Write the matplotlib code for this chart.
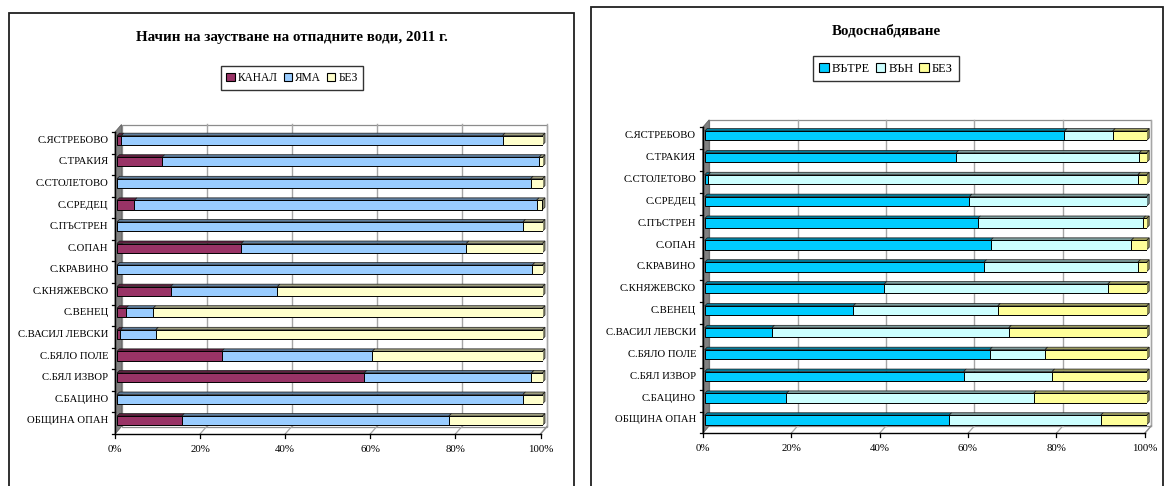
import matplotlib
matplotlib.use("Agg")
import matplotlib.pyplot as plt
from matplotlib.patches import Rectangle, Polygon, Patch
from matplotlib.colors import to_rgb

plt.rcParams['font.family'] = ['Liberation Serif', 'DejaVu Serif']

# ---------------- data (top to bottom as displayed) ----------------
categories = ['С.ЯСТРЕБОВО', 'С.ТРАКИЯ', 'С.СТОЛЕТОВО', 'С.СРЕДЕЦ', 'С.ПЪСТРЕН',
              'С.ОПАН', 'С.КРАВИНО', 'С.КНЯЖЕВСКО', 'С.ВЕНЕЦ', 'С.ВАСИЛ ЛЕВСКИ',
              'С.БЯЛО ПОЛЕ', 'С.БЯЛ ИЗВОР', 'С.БАЦИНО', 'ОБЩИНА ОПАН']

left_title = 'Начин на заустване на отпадните води, 2011 г.'
left_series = ['КАНАЛ', 'ЯМА', 'БЕЗ']
kanal = [1.0, 10.6, 0.0, 4.1, 0.0, 29.2, 0.0, 12.6, 2.1, 0.8, 24.6, 58.1, 0.0, 15.2]
yama = [89.6, 88.6, 97.2, 94.5, 95.4, 52.9, 97.6, 25.1, 6.4, 8.3, 35.4, 39.3, 95.4, 62.8]
bez_left = [9.4, 0.8, 2.8, 1.4, 4.6, 17.9, 2.4, 62.3, 91.5, 90.9, 40.0, 2.6, 4.6, 22.0]
left_colors = ['#993366', '#99CCFF', '#FFFFCC']

right_title = 'Водоснабдяване'
right_series = ['ВЪТРЕ', 'ВЪН', 'БЕЗ']
vatre = [81.4, 56.9, 0.8, 59.9, 61.8, 64.7, 63.2, 40.6, 33.6, 15.2, 64.5, 58.6, 18.5, 55.3]
van = [10.9, 41.4, 97.2, 40.1, 37.4, 31.8, 34.8, 50.6, 32.7, 53.6, 12.5, 20.0, 55.9, 34.3]
bez_right = [7.7, 1.7, 2.0, 0.0, 0.8, 3.5, 2.0, 8.8, 33.7, 31.2, 23.0, 21.4, 25.6, 10.4]
right_colors = ['#00CCFF', '#CCFFFF', '#FFFF99']

xticks = [0, 20, 40, 60, 80, 100]
xticklabels = ['0%', '20%', '40%', '60%', '80%', '100%']

# ---------------- figure ----------------
W, H = 1168, 486
fig = plt.figure(figsize=(W / 100, H / 100), dpi=100)
fig.patch.set_facecolor('white')


def shade(c, f):
    r, g, b = to_rgb(c)
    return (r * f, g * f, b * f)


def frame(x0, x1, ytop):
    fig.patches.append(Rectangle((x0 / W, -0.05), (x1 - x0) / W, 1 - ytop / H + 0.05,
                                 transform=fig.transFigure, fill=False,
                                 edgecolor='#202020', linewidth=1.3, zorder=0))


def panel(x0, x1, ytop, ybot, series_vals, names, colors, title, title_xy, legend_xy, legfs):
    ax = fig.add_axes([x0 / W, 1 - ybot / H, (x1 - x0) / W, (ybot - ytop) / H])
    n = len(categories)
    ax.set_xlim(0, 100)
    ax.set_ylim(-0.5, n - 0.5)
    ax.axis('off')
    ppx = (x1 - x0) / 100.0
    ppy = (ybot - ytop) / n
    fdx, fdy = -2 / ppx, -2.5 / ppy      # front plane offset
    bdx, bdy = 4.5 / ppx, 5 / ppy        # back wall offset
    ddx, ddy = 2.5 / ppx, 2.5 / ppy      # bar depth
    ylo, yhi = -0.5, n - 0.5

    # back wall
    ax.add_patch(Rectangle((bdx, ylo + bdy), 100, n, facecolor='white',
                           edgecolor='#8c8c8c', linewidth=0.9, zorder=0, clip_on=False))
    for t in xticks[1:]:
        ax.plot([t + bdx, t + bdx], [ylo + bdy, yhi + bdy], color='#a6a6a6',
                linewidth=1.0, zorder=0.5, clip_on=False)
        ax.plot([t + fdx, t + bdx], [ylo + fdy, ylo + bdy], color='#a6a6a6',
                linewidth=0.9, zorder=0.5, clip_on=False)
    # left side wall
    ax.add_patch(Polygon([(fdx, ylo + fdy), (fdx, yhi + fdy), (bdx, yhi + bdy), (bdx, ylo + bdy)],
                         closed=True, facecolor='#808080', edgecolor='#606060',
                         linewidth=0.6, zorder=0.7, clip_on=False))

    # bars
    ypos = [n - 1 - i for i in range(n)]
    h = 0.43
    left = [0.0] * n
    for vals, col in zip(series_vals, colors):
        ax.barh(ypos, vals, left=left, height=h, color=col, edgecolor='black',
                linewidth=0.7, zorder=3)
        for y, l, v in zip(ypos, left, vals):
            if v <= 0:
                continue
            top = y + h / 2
            ax.add_patch(Polygon([(l, top), (l + v, top), (l + v + ddx, top + ddy), (l + ddx, top + ddy)],
                                 closed=True, facecolor=shade(col, 0.62), edgecolor='#1a1a1a',
                                 linewidth=0.5, zorder=2.5, clip_on=False))
            if abs(l + v - 100) < 0.6:
                bot = y - h / 2
                ax.add_patch(Polygon([(l + v, bot), (l + v, top), (l + v + ddx, top + ddy), (l + v + ddx, bot + ddy)],
                                     closed=True, facecolor=shade(col, 0.55), edgecolor='#1a1a1a',
                                     linewidth=0.5, zorder=2.5, clip_on=False))
        left = [a + b for a, b in zip(left, vals)]

    # front axes
    ax.plot([fdx, 100 + fdx], [ylo + fdy, ylo + fdy], color='black', linewidth=1.0, zorder=4, clip_on=False)
    ax.plot([fdx, fdx], [ylo + fdy, yhi + fdy], color='black', linewidth=1.0, zorder=4, clip_on=False)
    ax.plot([100 + fdx, 100 + bdx], [ylo + fdy, ylo + bdy], color='#8c8c8c', linewidth=0.9, zorder=0.6, clip_on=False)
    for k in range(n + 1):
        yb = ylo + k + fdy
        ax.plot([fdx - 3 / ppx, fdx], [yb, yb], color='black', linewidth=0.9, zorder=4, clip_on=False)
    for t, lab in zip(xticks, xticklabels):
        ax.plot([t + fdx, t + fdx], [ylo + fdy, ylo + fdy - 4 / ppy], color='black',
                linewidth=0.9, zorder=4, clip_on=False)
        ax.text(t + fdx, ylo + fdy - 15 / ppy, lab, ha='center', va='center',
                fontsize=7.8, clip_on=False)
    for y, c in zip(ypos, categories):
        ax.text(fdx - 6.5 / ppx, y, c, ha='right', va='center', fontsize=7.7, clip_on=False)

    fig.text(title_xy[0] / W, 1 - title_xy[1] / H, title, ha='center', va='center',
             fontsize=10.8, fontweight='bold')
    handles = [Patch(facecolor=c, edgecolor='black', linewidth=0.8) for c in colors]
    leg = fig.legend(handles, names, loc='center',
                     bbox_to_anchor=(legend_xy[0] / W, 1 - legend_xy[1] / H),
                     ncol=3, fontsize=legfs, frameon=True, fancybox=False,
                     handlelength=0.75, handleheight=0.75, handletextpad=0.25,
                     columnspacing=0.5, borderpad=0.5, borderaxespad=0)
    leg.get_frame().set_edgecolor('black')
    leg.get_frame().set_linewidth(1.0)
    return ax


frame(9, 574, 13.3)
frame(591, 1163, 6.7)

panel(117, 542.5, 129.5, 431.5, [kanal, yama, bez_left], left_series, left_colors,
      left_title, (292, 37), (292, 78), 8.3)
panel(704.7, 1146.7, 124.8, 430.9, [vatre, van, bez_right], right_series, right_colors,
      right_title, (886, 31), (886, 68.5), 8.8)

fig.savefig('out.png', dpi=100, facecolor='white')
